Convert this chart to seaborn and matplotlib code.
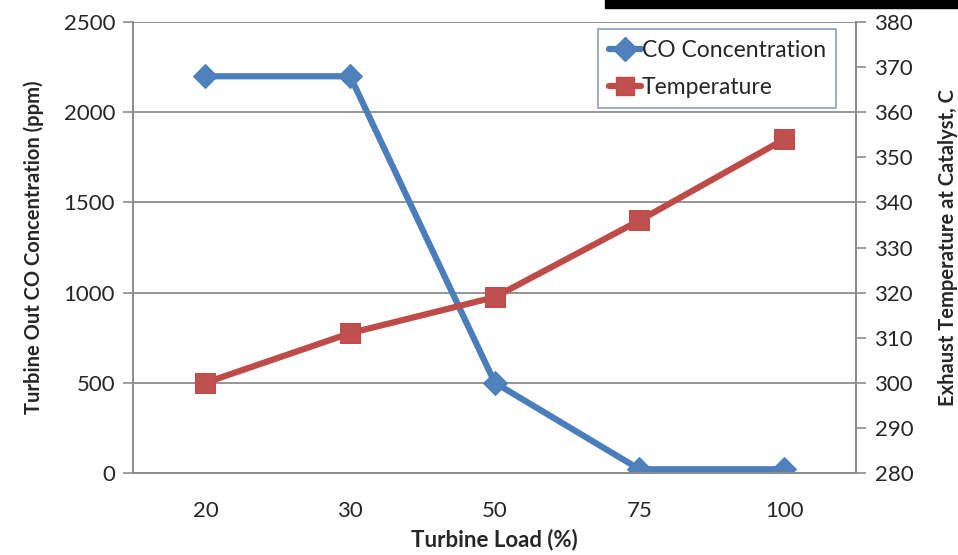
import pandas as pd
import seaborn as sns
import matplotlib.pyplot as plt
from matplotlib.lines import Line2D
from matplotlib.patches import Rectangle

# Data
turbine_load = ['20', '30', '50', '75', '100']
co_ppm = [2200, 2200, 500, 20, 20]
temperature_c = [300, 311, 319, 336, 354]

df = pd.DataFrame({'load': turbine_load, 'co': co_ppm, 'temp': temperature_c})

sns.set_style('white')
plt.rcParams['font.family'] = ['Lato', 'DejaVu Sans']

blue_line, blue_mark = '#4A7EBB', '#4F81BD'
red_line, red_mark = '#BE4B48', '#C0504D'
grid_col = '#8C8C8C'

fig, ax = plt.subplots(figsize=(9.58, 5.55), dpi=100)
fig.subplots_adjust(left=0.139, right=0.894, top=0.960, bottom=0.148)
ax2 = ax.twinx()

sns.lineplot(data=df, x='load', y='co', ax=ax, color=blue_line, linewidth=4.5,
             marker='D', markersize=12.5, markerfacecolor=blue_mark,
             markeredgecolor=blue_line, sort=False)
sns.lineplot(data=df, x='load', y='temp', ax=ax2, color=red_line, linewidth=4.5,
             marker='s', markersize=14, markerfacecolor=red_mark,
             markeredgecolor=red_line, sort=False)

ax.set_xlim(-0.5, 4.5)
ax.set_ylim(0, 2500)
ax.set_yticks(range(0, 2501, 500))
ax2.set_ylim(280, 380)
ax2.set_yticks(range(280, 381, 10))

# gridlines on left axis
ax.yaxis.grid(True, color=grid_col, linewidth=1.3)
ax.set_axisbelow(True)

# x ticks at the category boundaries, labels in the middle
ax.set_xticks([i - 0.5 for i in range(len(turbine_load) + 1)], minor=False)
ax.set_xticklabels([''] * (len(turbine_load) + 1))
ax.set_xticks(range(len(turbine_load)), minor=True)
ax.set_xticklabels(turbine_load, minor=True)
ax.tick_params(axis='x', which='major', direction='out', length=8, width=1.2, color=grid_col)
ax.tick_params(axis='x', which='minor', length=0, pad=20, labelsize=16)
ax.tick_params(axis='y', direction='out', length=7, width=1.2, color=grid_col, labelsize=16, pad=6)
ax2.tick_params(axis='y', direction='out', length=7, width=1.2, color=grid_col, labelsize=16, pad=6)

for a in (ax, ax2):
    for side in ('left', 'right', 'bottom'):
        a.spines[side].set_color(grid_col)
        a.spines[side].set_linewidth(1.3)
    a.spines['top'].set_visible(False)

ax.set_xlabel('Turbine Load (%)', fontsize=16, fontweight='bold', labelpad=6)
ax.set_ylabel('Turbine Out CO Concentration (ppm)', fontsize=14.5, fontweight='bold', labelpad=14)
ax2.set_ylabel('Exhaust Temperature at Catalyst, C', fontsize=14.5, fontweight='bold', labelpad=18)

handles = [
    Line2D([], [], color=blue_line, linewidth=4.5, marker='D', markersize=12,
           markerfacecolor=blue_mark, markeredgecolor=blue_line),
    Line2D([], [], color=red_line, linewidth=4.5, marker='s', markersize=13,
           markerfacecolor=red_mark, markeredgecolor=red_line),
]
leg = ax2.legend(handles, ['CO Concentration', 'Temperature'], loc='upper right',
                 bbox_to_anchor=(0.972, 0.984), fontsize=16.5, frameon=True,
                 fancybox=False, handlelength=1.4, handletextpad=0.05,
                 borderpad=0.45, labelspacing=0.7, borderaxespad=0)
leg.get_frame().set_edgecolor('#6F86B0')
leg.get_frame().set_linewidth(1.2)

# black band across the top right of the original image
fig.patches.append(Rectangle((605 / 958, 1 - 8 / 555), 1, 8 / 555,
                             transform=fig.transFigure, color='black', zorder=10))

plt.savefig('out.png', dpi=100)
